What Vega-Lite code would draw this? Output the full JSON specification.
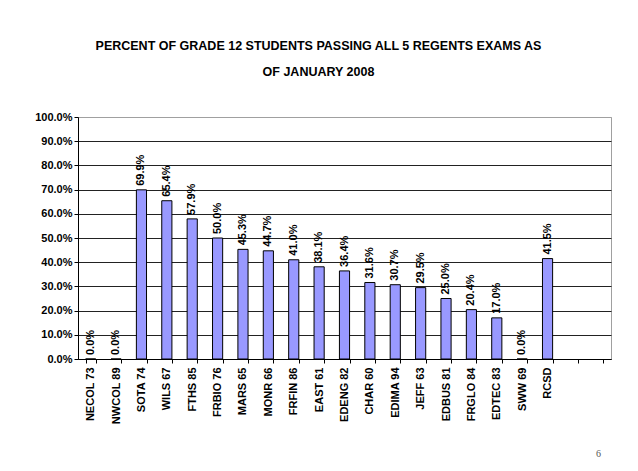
{
  "$schema": "https://vega.github.io/schema/vega-lite/v6.json",
  "width": 533,
  "height": 242,
  "autosize": {"type": "none"},
  "padding": {"left": 78, "top": 117, "right": 27, "bottom": 112},
  "background": "white",
  "title": {
    "text": ["PERCENT OF GRADE 12 STUDENTS PASSING ALL 5 REGENTS EXAMS AS", "OF JANUARY 2008"],
    "font": "Liberation Sans",
    "fontSize": 12.5,
    "fontWeight": "bold",
    "color": "#000000",
    "anchor": "middle",
    "frame": "group",
    "dx": -26,
    "lineHeight": 26,
    "offset": 33
  },
  "data": {
    "values": [
      {"school": "NECOL 73", "pct": 0.0},
      {"school": "NWCOL 89", "pct": 0.0},
      {"school": "SOTA 74", "pct": 0.699},
      {"school": "WILS 67", "pct": 0.654},
      {"school": "FTHS 85", "pct": 0.579},
      {"school": "FRBIO 76", "pct": 0.5},
      {"school": "MARS 65", "pct": 0.453},
      {"school": "MONR 66", "pct": 0.447},
      {"school": "FRFIN 86", "pct": 0.41},
      {"school": "EAST 61", "pct": 0.381},
      {"school": "EDENG 82", "pct": 0.364},
      {"school": "CHAR 60", "pct": 0.316},
      {"school": "EDIMA 94", "pct": 0.307},
      {"school": "JEFF 63", "pct": 0.295},
      {"school": "EDBUS 81", "pct": 0.25},
      {"school": "FRGLO 84", "pct": 0.204},
      {"school": "EDTEC 83", "pct": 0.17},
      {"school": "SWW 69", "pct": 0.0},
      {"school": "RCSD", "pct": 0.415}
    ]
  },
  "encoding": {
    "x": {
      "field": "school",
      "type": "nominal",
      "sort": null,
      "scale": {
        "domain": ["NECOL 73", "NWCOL 89", "SOTA 74", "WILS 67", "FTHS 85", "FRBIO 76", "MARS 65", "MONR 66", "FRFIN 86", "EAST 61", "EDENG 82", "CHAR 60", "EDIMA 94", "JEFF 63", "EDBUS 81", "FRGLO 84", "EDTEC 83", "SWW 69", "RCSD", " ", "  "],
        "paddingInner": 0.6,
        "paddingOuter": 0.3
      },
      "axis": {
        "title": "6",
        "titleFont": "Liberation Serif",
        "titleFontSize": 10,
        "titleFontWeight": "normal",
        "titleColor": "#555555",
        "titleAnchor": "start",
        "titleAlign": "center",
        "titleBaseline": "alphabetic",
        "titleX": 520,
        "titleY": 97,
        "tickBand": "extent",
        "labelAngle": -90,
        "labelFont": "Liberation Sans",
        "labelFontWeight": "bold",
        "labelFontSize": 11,
        "labelColor": "#000000",
        "labelPadding": 4,
        "tickSize": 4,
        "tickColor": "#000000",
        "domainColor": "#000000",
        "grid": false
      }
    },
    "y": {
      "field": "pct",
      "type": "quantitative",
      "scale": {"domain": [0, 1], "nice": false},
      "axis": {
        "title": null,
        "values": [0, 0.1, 0.2, 0.3, 0.4, 0.5, 0.6, 0.7, 0.8, 0.9, 1.0],
        "format": ".1%",
        "labelFont": "Liberation Sans",
        "labelFontWeight": "bold",
        "labelFontSize": 11,
        "labelColor": "#000000",
        "labelPadding": 2,
        "tickSize": 4,
        "tickColor": "#000000",
        "domainColor": "#000000",
        "grid": true,
        "gridColor": {"condition": {"test": "datum.value >= 1", "value": "#a0a0a0"}, "value": "#222222"},
        "gridOpacity": 1,
        "gridWidth": 1
      }
    }
  },
  "layer": [
    {
      "mark": {"type": "bar", "fill": "#9999FF", "stroke": "#000000", "strokeWidth": 1}
    },
    {
      "mark": {
        "type": "text",
        "angle": 270,
        "align": "left",
        "baseline": "middle",
        "dx": 4,
        "font": "Liberation Sans",
        "fontWeight": "bold",
        "fontSize": 11,
        "color": "#000000"
      },
      "encoding": {
        "text": {"field": "pct", "type": "quantitative", "format": ".1%"}
      }
    }
  ],
  "config": {
    "view": {"stroke": "#a0a0a0"}
  }
}
